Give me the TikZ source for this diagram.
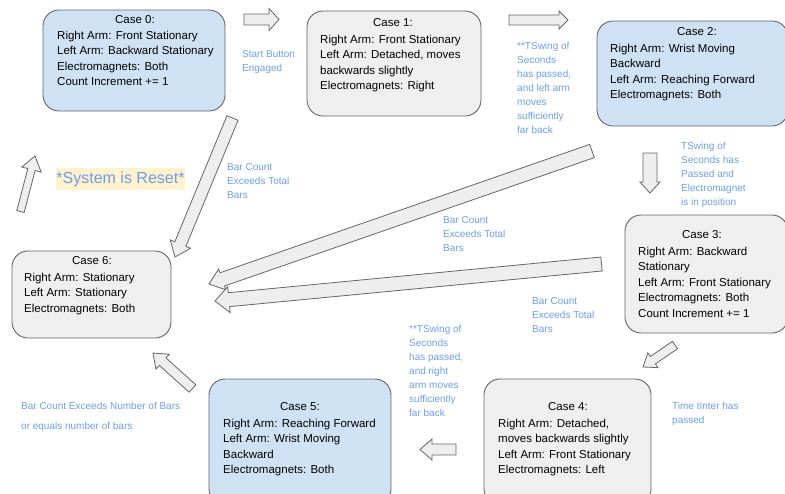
\documentclass[tikz,border=0pt]{standalone}
\usepackage{fontspec}
\setmainfont{Liberation Sans}
\usetikzlibrary{calc}
\definecolor{boxblue}{HTML}{CFE2F3}
\definecolor{boxgray}{HTML}{EFEFEF}
\definecolor{edge}{HTML}{666666}
\definecolor{lbl}{HTML}{6D9EEB}
\definecolor{hl}{HTML}{FFF2CC}
\definecolor{arrfill}{HTML}{EEEEEE}
\tikzset{
 casebox/.style={draw=edge, line width=0.9pt, rounded corners=16pt},
 bluebox/.style={casebox, fill=boxblue},
 graybox/.style={casebox, fill=boxgray},
 title/.style={font=\fontsize{11.5}{15.5}\selectfont, inner sep=0pt, anchor=center},
 body/.style={font=\fontsize{11.5}{15.5}\selectfont, inner sep=0pt, anchor=north west, align=left},
 lab/.style={font=\fontsize{10}{14}\selectfont, text=lbl, inner sep=0pt, anchor=north west, align=left},
 blockarr/.style={draw=edge, fill=arrfill, line width=0.8pt, line join=miter}
}
\newcommand\blockarrow[5]{%
 \path[blockarr] let \p1=(#1), \p2=(#2), \n1={atan2(\y2-\y1,\x2-\x1)},
   \n2={veclen(\x2-\x1,\y2-\y1)}, \n3={\n2-#5} in
  ($(\p1)+(\n1+90:#3)$) -- ($(\p1)+(\n1:\n3)+(\n1+90:#3)$) --
  ($(\p1)+(\n1:\n3)+(\n1+90:#4)$) -- (\p2) --
  ($(\p1)+(\n1:\n3)+(\n1-90:#4)$) -- ($(\p1)+(\n1:\n3)+(\n1-90:#3)$) --
  ($(\p1)+(\n1-90:#3)$) -- cycle;}
\begin{document}
\begin{tikzpicture}[x=1pt,y=1pt]
\useasboundingbox (0,0) rectangle (785,-493);
\clip (0,0) rectangle (785,-493);
\fill[white] (0,0) rectangle (785,-493);
% boxes
\node[bluebox, minimum width=182pt, minimum height=101pt] (c0) at (134,-60.5) {};
\node[graybox, minimum width=174pt, minimum height=105pt] (c1) at (394,-63.5) {};
\node[bluebox, minimum width=191pt, minimum height=105pt] (c2) at (692.5,-73.5) {};
\node[graybox, minimum width=163pt, minimum height=118pt] (c3) at (706.5,-274) {};
\node[graybox, minimum width=167pt, minimum height=126pt] (c4) at (567.5,-442) {};
\node[bluebox, minimum width=182pt, minimum height=126pt] (c5) at (300,-442) {};
\node[graybox, minimum width=159pt, minimum height=87pt] (c6) at (91.5,-294.5) {};
% titles
\node[title] (c0t) at (135,-20) {Case 0:};
\node[title] (c1t) at (393,-23) {Case 1:};
\node[title] (c2t) at (697,-32) {Case 2:};
\node[title] (c3t) at (702,-235) {Case 3:};
\node[title] (c4t) at (568,-407) {Case 4:};
\node[title] (c5t) at (300,-407) {Case 5:};
\node[title] (c6t) at (92,-261) {Case 6:};
% bodies
\node[body] (c0b) at (57,-30.8) {Right Arm: Front Stationary\\Left Arm: Backward Stationary\\Electromagnets: Both\\Count Increment += 1};
\node[body] (c1b) at (320,-34.8) {Right Arm: Front Stationary\\Left Arm: Detached, moves\\backwards slightly\\Electromagnets: Right};
\node[body] (c2b) at (610,-43.8) {Right Arm: Wrist Moving\\Backward\\Left Arm: Reaching Forward\\Electromagnets: Both};
\node[body] (c3b) at (638,-246.8) {Right Arm: Backward\\Stationary\\Left Arm: Front Stationary\\Electromagnets: Both\\Count Increment += 1};
\node[body] (c4b) at (498,-418.8) {Right Arm: Detached,\\moves backwards slightly\\Left Arm: Front Stationary\\Electromagnets: Left};
\node[body] (c5b) at (223,-418.8) {Right Arm: Reaching Forward\\Left Arm: Wrist Moving\\Backward\\Electromagnets: Both};
\node[body] (c6b) at (24,-272.8) {Right Arm: Stationary\\Left Arm: Stationary\\Electromagnets: Both};
% labels
\node[lab] (l01) at (242,-50.4) {Start Button\\Engaged};
\node[lab] (l12) at (517,-42.4) {**TSwing of\\Seconds\\has passed,\\and left arm\\moves\\sufficiently\\far back};
\node[lab] (l23) at (681,-142.4) {TSwing of\\Seconds has\\Passed and\\Electromagnet\\is in position};
\node[lab] (l06) at (227,-163.4) {Bar Count\\Exceeds Total\\Bars};
\node[lab] (l26) at (443,-216.4) {Bar Count\\Exceeds Total\\Bars};
\node[lab] (l36) at (532,-297.4) {Bar Count\\Exceeds Total\\Bars};
\node[lab] (l45) at (409,-325.4) {**TSwing of\\Seconds\\has passed,\\and right\\arm moves\\sufficiently\\far back};
\node[lab] (l34) at (672,-402.4) {Time tInter has\\passed};
\node[lab, font=\fontsize{10}{20}\selectfont] (l56) at (21,-402.4) {Bar Count Exceeds Number of Bars\\or equals number of bars};
\node[font=\fontsize{16}{19}\selectfont, text=lbl, fill=hl, minimum width=129pt, minimum height=22pt, inner sep=0pt] (reset) at (120.5,-179) {*System is Reset*};
% arrow end points
\coordinate (a1s) at (244,-19.5); \coordinate (a1e) at (279,-19.5);
\coordinate (a2s) at (509,-20);   \coordinate (a2e) at (568,-20);
\coordinate (a3s) at (650,-153);  \coordinate (a3e) at (650,-193);
\coordinate (a4s) at (675,-345);  \coordinate (a4e) at (643,-367);
\coordinate (a5s) at (456,-449.5);\coordinate (a5e) at (420,-449.5);
\coordinate (a6s) at (192.5,-388.5); \coordinate (a6e) at (153,-353);
\coordinate (a7s) at (20.5,-211.5);  \coordinate (a7e) at (35,-156);
\coordinate (a8s) at (232.5,-118);   \coordinate (a8e) at (175,-257);
\coordinate (a9s) at (592,-151);     \coordinate (a9e) at (209,-284);
\coordinate (a10s) at (601.5,-264);  \coordinate (a10e) at (215,-301);
% block arrows
\blockarrow{a1s}{a1e}{5.5}{11}{10}
\blockarrow{a2s}{a2e}{5}{9}{9}
\blockarrow{a3s}{a3e}{7}{10}{11}
\blockarrow{a4s}{a4e}{4.5}{9}{12}
\blockarrow{a5s}{a5e}{5.5}{10.5}{12}
\blockarrow{a6s}{a6e}{5}{10}{13}
\blockarrow{a7s}{a7e}{3.8}{10}{14}
\blockarrow{a8s}{a8e}{6}{11}{14}
\blockarrow{a9s}{a9e}{7}{11}{14}
\blockarrow{a10s}{a10e}{7}{13}{14}
\end{tikzpicture}
\end{document}
